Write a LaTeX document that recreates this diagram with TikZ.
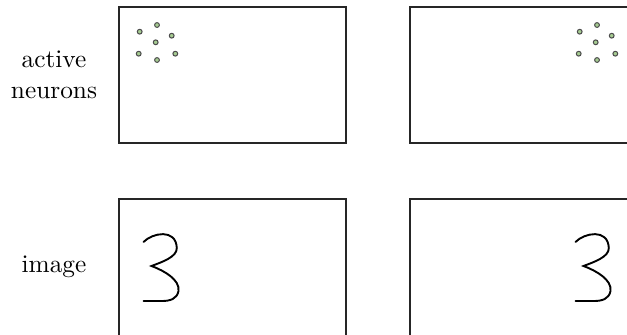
\documentclass[tikz,border=0pt]{standalone}
\begin{document}
\begin{tikzpicture}[x=0.395pt,y=-0.395pt,
  frame/.style={draw=black!85,line width=0.45pt},
  neuron/.style={circle,draw=black!70,fill=neurongreen,line width=0.4pt,inner sep=0pt,minimum size=1.9pt},
  digit/.style={draw=black,line width=0.75pt,line cap=round,line join=miter},
  lbl/.style={font=\fontsize{10}{12}\selectfont,align=center}]
\definecolor{neurongreen}{RGB}{166,204,146}
\useasboundingbox (0,0) rectangle (627,334);
\clip (0,0) rectangle (627,334);
% frames
\draw[frame] (119,7) rectangle (346,143);
\draw[frame] (410,7) rectangle (637,143);
\draw[frame] (119,199) rectangle (346,340);
\draw[frame] (410,199) rectangle (637,340);
% labels
\node[lbl] (lact) at (54,75) {active\\neurons};
\node[lbl] (limg) at (54,267) {image};
% neurons left and right
\foreach \x/\y [count=\i] in {139.7/31.7,157/25,171.7/35.7,155.7/42.3,138.7/53.7,157/60,175.3/53.7}{
  \node[neuron] (nl\i) at (\x,\y) {};
  \node[neuron] (nr\i) at (\x+440,\y) {};
}
% digits
\foreach \dx in {0,432}{
\begin{scope}[xshift=\dx*0.395pt]
\draw[digit] (143.5,242) .. controls (152,233) and (176,228) .. (176.8,248)
  .. controls (177,257) and (162,262) .. (151.5,266)
  .. controls (165,271) and (180,280) .. (178.5,291)
  .. controls (177,299) and (170,301) .. (162,301) -- (143.5,301);
\end{scope}}
\end{tikzpicture}
\end{document}
